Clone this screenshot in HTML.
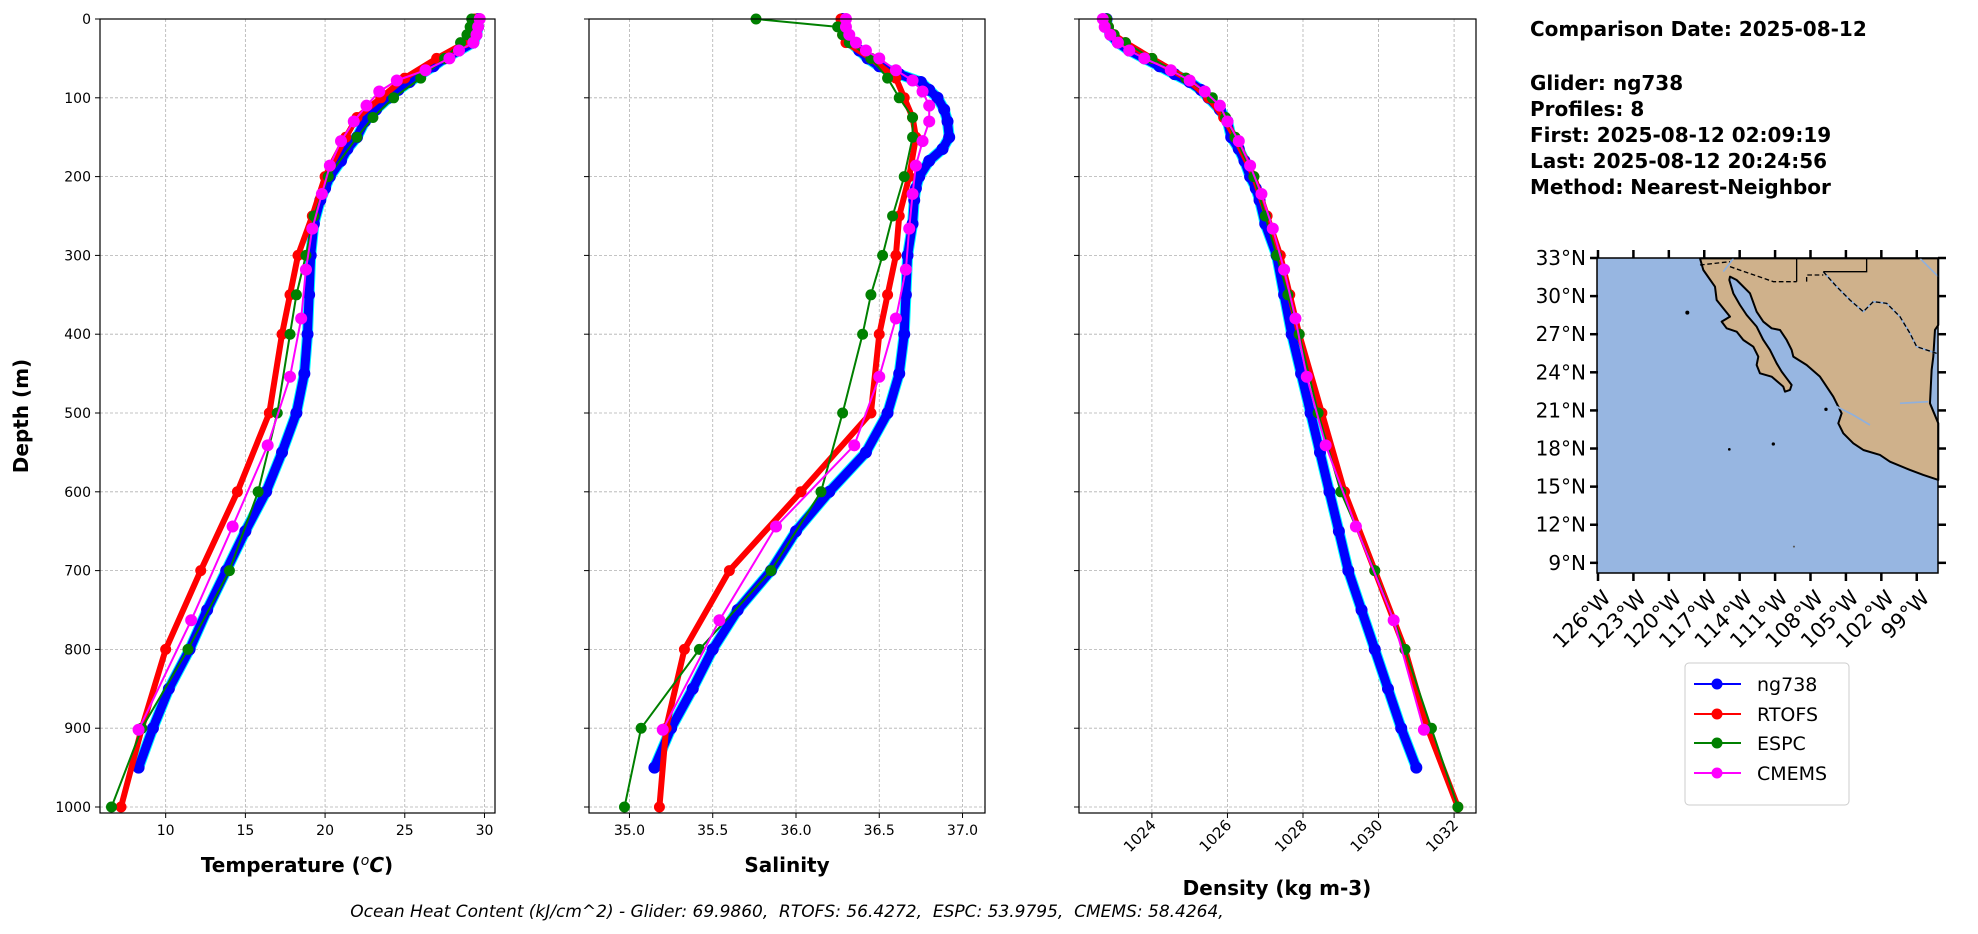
<!DOCTYPE html>
<html><head><meta charset="utf-8">
<style>
html,body{margin:0;padding:0;background:#fff;}
svg{display:block;font-family:"DejaVu Sans","Liberation Sans",sans-serif;}
</style></head>
<body>
<svg id="fig" width="1978" height="934" viewBox="0 0 1978 934" xmlns="http://www.w3.org/2000/svg">
<g id="g-grid"></g><g id="g-data"></g><g id="g-axes"></g>
<text x="28" y="416" font-size="20" font-weight="bold" text-anchor="middle" transform="rotate(-90 28 416)">Depth (m)</text>
<text x="297" y="872" font-size="20" font-weight="bold" text-anchor="middle">Temperature (<tspan font-style="italic" font-weight="normal" dy="-7" font-size="14">o</tspan><tspan dy="7" font-style="italic">C</tspan>)</text>
<text x="787" y="872" font-size="20" font-weight="bold" text-anchor="middle">Salinity</text>
<text x="1277" y="895" font-size="20" font-weight="bold" text-anchor="middle">Density (kg m-3)</text>
<text x="787" y="917" font-size="17" font-style="italic" text-anchor="middle" xml:space="preserve" style="white-space:pre">Ocean Heat Content (kJ/cm^2) - Glider: 69.9860,  RTOFS: 56.4272,  ESPC: 53.9795,  CMEMS: 58.4264,</text>
<g font-size="20" font-weight="bold">
<text x="1530" y="36">Comparison Date: 2025-08-12</text>
<text x="1530" y="90">Glider: ng738</text>
<text x="1530" y="116">Profiles: 8</text>
<text x="1530" y="142">First: 2025-08-12 02:09:19</text>
<text x="1530" y="168">Last: 2025-08-12 20:24:56</text>
<text x="1530" y="194">Method: Nearest-Neighbor</text>
</g>
<g id="g-map">
<rect x="1597" y="258" width="341" height="315" fill="#97b6e1"/>
<g transform="translate(1590 250) scale(0.3333)">
<polygon fill="#cfb18b" stroke="#000" stroke-width="6" stroke-linejoin="round" points="330,25 340,60 375,110 380,150 400,175 420,200 395,215 410,235 440,245 460,270 490,290 505,320 500,345 510,370 545,380 580,410 585,425 600,420 605,405 590,385 575,365 560,340 540,300 520,270 500,230 470,195 450,165 430,130 418,90 420,80 440,90 480,130 500,185 520,215 545,235 570,240 590,270 605,300 610,320 650,345 690,380 730,440 745,470 755,490 745,520 760,550 790,580 820,600 870,615 900,635 960,660 1000,675 1045,690 1045,520 1020,460 1025,360 1030,320 1035,240 1045,225 1045,25"/>
<polyline fill="none" stroke="#8fb0dd" stroke-width="5" points="930,460 1015,455"/>
<polyline fill="none" stroke="#8fb0dd" stroke-width="5" points="740,470 790,495 840,525"/>
<polyline fill="none" stroke="#8fb0dd" stroke-width="5" points="430,25 400,65"/>
<polyline fill="none" stroke="#8fb0dd" stroke-width="5" points="990,25 1045,80"/>
<polyline fill="none" stroke="#8fb0dd" stroke-width="5" points="700,65 740,110 780,150 820,185 850,155 890,160 930,200 960,250 980,290 1040,310"/>
<polyline fill="none" stroke="#000" stroke-width="4" stroke-dasharray="14,8" points="700,65 740,110 780,150 820,185 850,155 890,160 930,200 960,250 980,290 1040,310"/>
<polyline fill="none" stroke="#000" stroke-width="4" stroke-dasharray="14,8" points="330,45 420,35"/>
<polyline fill="none" stroke="#000" stroke-width="4" stroke-dasharray="14,8" points="420,50 550,95 620,95"/>
<polyline fill="none" stroke="#000" stroke-width="4" stroke-dasharray="14,8" points="650,95 650,75 700,75"/>
<polyline fill="none" stroke="#000" stroke-width="4" points="620,25 620,95"/>
<polyline fill="none" stroke="#000" stroke-width="4" points="700,65 830,65 830,25"/>
<circle cx="292" cy="188" r="6" fill="#000"/>
<circle cx="418" cy="598" r="4" fill="#000"/>
<circle cx="550" cy="582" r="5" fill="#000"/>
<circle cx="612" cy="890" r="3" fill="#555"/>
<circle cx="708" cy="478" r="5" fill="#000"/>
</g>
<rect x="1597" y="258" width="341" height="315" fill="none" stroke="#000" stroke-width="1.5"/>
</g>
<g>
<rect x="1685" y="663" width="164" height="142" rx="4" fill="#fff" stroke="#ccc"/>
<g><line x1="1694" y1="684" x2="1741" y2="684" stroke="blue" stroke-width="2"/><circle cx="1717" cy="684" r="5.5" fill="blue"/><text x="1757" y="691" font-size="19">ng738</text></g>
<g><line x1="1694" y1="714" x2="1741" y2="714" stroke="red" stroke-width="2"/><circle cx="1717" cy="714" r="5.5" fill="red"/><text x="1757" y="721" font-size="19">RTOFS</text></g>
<g><line x1="1694" y1="743" x2="1741" y2="743" stroke="green" stroke-width="2"/><circle cx="1717" cy="743" r="5.5" fill="green"/><text x="1757" y="750" font-size="19">ESPC</text></g>
<g><line x1="1694" y1="773" x2="1741" y2="773" stroke="magenta" stroke-width="2"/><circle cx="1717" cy="773" r="5.5" fill="magenta"/><text x="1757" y="780" font-size="19">CMEMS</text></g>
</g>
</svg>
<script>
// ---- data ----
const gliderDepth = [0,10,20,30,40,50,60,70,80,90,100,115,130,150,165,180,200,215,230,260,300,350,400,450,500,550,600,650,700,750,800,850,900,950];
const gliderTemp  = [29.6,29.6,29.5,29.3,28.4,27.5,26.8,26.0,25.3,24.6,24.0,23.2,22.5,22.0,21.4,21.0,20.3,20.0,19.7,19.3,19.1,19.0,18.9,18.7,18.2,17.3,16.3,15.0,13.8,12.6,11.5,10.2,9.2,8.3];
const gliderSal   = [36.28,36.29,36.3,36.33,36.38,36.43,36.5,36.62,36.75,36.8,36.85,36.89,36.91,36.92,36.88,36.8,36.74,36.72,36.71,36.7,36.67,36.66,36.65,36.62,36.55,36.42,36.2,36.0,35.85,35.65,35.5,35.38,35.25,35.15];
const gliderDens  = [1022.8,1022.82,1022.9,1023.1,1023.4,1023.8,1024.2,1024.6,1025.0,1025.3,1025.5,1025.8,1026.0,1026.1,1026.3,1026.45,1026.6,1026.75,1026.85,1027.0,1027.3,1027.5,1027.7,1027.95,1028.2,1028.45,1028.7,1028.95,1029.2,1029.55,1029.9,1030.25,1030.6,1031.0];

const rtofsDepth = [0,10,20,30,50,75,100,125,150,200,250,300,350,400,500,600,700,800,900,1000];
const rtofsTemp  = [29.4,29.3,29.1,28.8,27.0,25.0,23.5,22.0,21.3,20.0,19.2,18.3,17.8,17.3,16.5,14.5,12.2,10.0,8.5,7.2];
const rtofsSal   = [36.27,36.27,36.28,36.3,36.45,36.6,36.65,36.7,36.72,36.68,36.62,36.6,36.55,36.5,36.45,36.03,35.6,35.33,35.22,35.18];
const rtofsDens  = [1022.8,1022.85,1023.0,1023.3,1024.0,1024.9,1025.5,1025.9,1026.2,1026.7,1027.05,1027.4,1027.65,1027.9,1028.5,1029.1,1029.9,1030.7,1031.3,1032.1];

const espcDepth = [0,10,20,30,50,75,100,125,150,200,250,300,350,400,500,600,700,800,900,1000];
const espcTemp  = [29.2,29.1,28.9,28.5,27.5,26.0,24.3,23.0,22.0,20.2,19.3,18.8,18.2,17.8,17.0,15.8,14.0,11.4,8.5,6.6];
const espcSal   = [35.76,36.25,36.28,36.32,36.45,36.55,36.62,36.7,36.7,36.65,36.58,36.52,36.45,36.4,36.28,36.15,35.85,35.42,35.07,34.97];
const espcDens  = [1022.8,1022.85,1023.0,1023.3,1024.0,1024.9,1025.6,1025.95,1026.2,1026.7,1027.0,1027.3,1027.6,1027.9,1028.4,1029.0,1029.9,1030.7,1031.4,1032.1];

const cmemsDepth = [0,10,20,30,40,50,65,78,92,110,130,155,186,222,266,318,380,454,541,644,763,902];
const cmemsTemp  = [29.7,29.6,29.5,29.3,28.4,27.8,26.3,24.5,23.4,22.6,21.8,21.0,20.3,19.8,19.2,18.8,18.5,17.8,16.4,14.2,11.6,8.3];
const cmemsSal   = [36.3,36.3,36.32,36.36,36.42,36.5,36.6,36.7,36.76,36.8,36.8,36.76,36.72,36.7,36.68,36.66,36.6,36.5,36.35,35.88,35.54,35.2];
const cmemsDens  = [1022.7,1022.75,1022.9,1023.1,1023.4,1023.8,1024.5,1025.0,1025.4,1025.8,1026.0,1026.3,1026.6,1026.9,1027.2,1027.5,1027.8,1028.1,1028.6,1029.4,1030.4,1031.2];

const depthTicks = [0,100,200,300,400,500,600,700,800,900,1000];
const tempTicks = [10,15,20,25,30];
const salTicks = [35.0,35.5,36.0,36.5,37.0];
const salTickLabels = ["35.0","35.5","36.0","36.5","37.0"];
const densTicks = [1024,1026,1028,1030,1032];
const latTicks = [9,12,15,18,21,24,27,30,33];
const lonTicks = [-126,-123,-120,-117,-114,-111,-108,-105,-102,-99];

// ---- helpers ----
const NS="http://www.w3.org/2000/svg";
function mk(tag,attrs,parent){const e=document.createElementNS(NS,tag);for(const k in attrs)e.setAttribute(k,attrs[k]);parent.appendChild(e);return e;}
const gGrid=document.getElementById('g-grid'),gData=document.getElementById('g-data'),gAxes=document.getElementById('g-axes');
const Y0=19,Y1=813,DMAX=1007.6;
const yS=d=>Y0+d/DMAX*(Y1-Y0);

const panels=[
 {name:'temperature',x0:100,x1:495,vmin:5.88,vmax:30.66,ticks:tempTicks,labels:tempTicks.map(String),rot:false,
  series:[[gliderDepth,gliderTemp],[rtofsDepth,rtofsTemp],[espcDepth,espcTemp],[cmemsDepth,cmemsTemp]],ylabels:true},
 {name:'salinity',x0:589,x1:985,vmin:34.757,vmax:37.135,ticks:salTicks,labels:salTickLabels,rot:false,
  series:[[gliderDepth,gliderSal],[rtofsDepth,rtofsSal],[espcDepth,espcSal],[cmemsDepth,cmemsSal]],ylabels:false},
 {name:'density',x0:1079,x1:1476,vmin:1022.07,vmax:1032.58,ticks:densTicks,labels:densTicks.map(String),rot:true,
  series:[[gliderDepth,gliderDens],[rtofsDepth,rtofsDens],[espcDepth,espcDens],[cmemsDepth,cmemsDens]],ylabels:false}
];
const styles=[
 {name:'ng738',c:'blue',w:9,r:6,halo:'cyan'},
 {name:'rtofs',c:'red',w:6,r:5.5},
 {name:'espc',c:'green',w:2,r:5.5},
 {name:'cmems',c:'magenta',w:2,r:6}
];

panels.forEach(p=>{
 const xS=v=>p.x0+(v-p.vmin)/(p.vmax-p.vmin)*(p.x1-p.x0);
 depthTicks.forEach(d=>{
  const l=mk('line',{x1:p.x0,x2:p.x1,y1:yS(d),y2:yS(d),stroke:'#b0b0b0','stroke-width':0.8,'stroke-dasharray':'3,2'},gGrid);
  
  
  mk('line',{x1:p.x0-5,x2:p.x0,y1:yS(d),y2:yS(d),stroke:'#000','stroke-width':1},gAxes);
  if(p.ylabels){
   const t=mk('text',{x:p.x0-9,y:yS(d)+5,'font-size':14,'text-anchor':'end'},gAxes);
   t.textContent=d;
   
   
  }
 });
 p.ticks.forEach((v,i)=>{
  const x=xS(v);
  const l=mk('line',{x1:x,x2:x,y1:Y0,y2:Y1,stroke:'#b0b0b0','stroke-width':0.8,'stroke-dasharray':'3,2'},gGrid);
  
  
  mk('line',{x1:x,x2:x,y1:Y1,y2:Y1+5,stroke:'#000','stroke-width':1},gAxes);
  let t;
  if(p.rot){
   t=mk('text',{x:x+5,y:Y1+13,'font-size':15,'text-anchor':'end',transform:`rotate(-45 ${x+5} ${Y1+13})`},gAxes);
  }else{
   t=mk('text',{x:x,y:Y1+22,'font-size':14,'text-anchor':'middle'},gAxes);
  }
  t.textContent=p.labels[i];
  
  
 });
 p.series.forEach((s,si)=>{
  const st=styles[si];const [ds,vs]=s;
  const pts=ds.map((d,i)=>xS(vs[i]).toFixed(1)+','+yS(d).toFixed(1)).join(' ');
  const g=mk('g',{},gData);
  
  
  if(st.halo){mk('polyline',{points:pts,fill:'none',stroke:st.halo,'stroke-width':st.w+2,'stroke-linejoin':'round'},g);}
  mk('polyline',{points:pts,fill:'none',stroke:st.c,'stroke-width':st.w,'stroke-linejoin':'round'},g);
  ds.forEach((d,i)=>{
   const c=mk('circle',{cx:xS(vs[i]),cy:yS(d),r:st.r,fill:st.c},g);
   
   
  });
 });
 const fr=mk('rect',{x:p.x0,y:Y0,width:p.x1-p.x0,height:Y1-Y0,fill:'none',stroke:'#000','stroke-width':1.2},gAxes);
 
 
});

// ---- map ticks ----
const gMap=document.getElementById('g-map');
const MX0=1598,MX1=1938,MY0=258,MY1=573,LON0=-126,LON1=-97.2,LAT0=8.2,LAT1=33;
const mx=lon=>MX0+(lon-LON0)/(LON1-LON0)*(MX1-MX0);
const my=lat=>MY0+(LAT1-lat)/(LAT1-LAT0)*(MY1-MY0);
latTicks.forEach(lat=>{
 const y=my(lat);
 mk('line',{x1:MX0-8,x2:MX0,y1:y,y2:y,stroke:'#000','stroke-width':2.5},gMap);
 mk('line',{x1:MX1,x2:MX1+8,y1:y,y2:y,stroke:'#000','stroke-width':2.5},gMap);
 const t=mk('text',{x:MX0-12,y:y+7,'font-size':20,'text-anchor':'end'},gMap);
 t.textContent=lat+'°N';
 
 
});
lonTicks.forEach(lon=>{
 const x=mx(lon);
 mk('line',{x1:x,x2:x,y1:MY1,y2:MY1+8,stroke:'#000','stroke-width':2.5},gMap);
 mk('line',{x1:x,x2:x,y1:MY0-8,y2:MY0,stroke:'#000','stroke-width':2.5},gMap);
 const t=mk('text',{x:x+14,y:MY1+26,'font-size':21,'text-anchor':'end',transform:`rotate(-45 ${x+14} ${MY1+26})`},gMap);
 t.textContent=(-lon)+'°W';
 
 
});
</script>
</body></html>
